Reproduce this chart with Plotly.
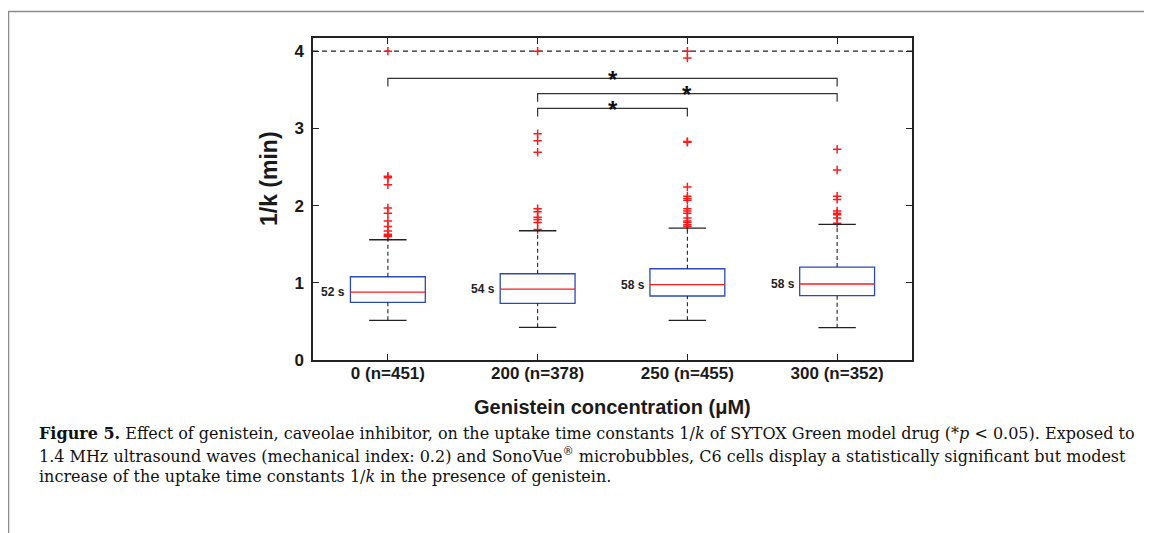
import plotly.graph_objects as go

# ---------------- data ----------------
categories = ["0 (n=451)", "200 (n=378)", "250 (n=455)", "300 (n=352)"]
positions = [1, 2, 3, 4]
q1 = [0.747, 0.734, 0.829, 0.833]
median = [0.880, 0.919, 0.975, 0.984]
q3 = [1.078, 1.117, 1.182, 1.204]
lower_whisker = [0.514, 0.423, 0.514, 0.419]
upper_whisker = [1.557, 1.674, 1.709, 1.756]
median_labels = ["52 s", "54 s", "58 s", "58 s"]
outliers = [
    [4.0, 2.38, 2.36, 2.27, 1.97, 1.90, 1.80, 1.73, 1.67, 1.63, 1.61, 1.60],
    [4.0, 2.93, 2.84, 2.69, 1.96, 1.92, 1.85, 1.82, 1.78, 1.69],
    [4.0, 3.91, 2.83, 2.82, 2.24, 2.12, 2.09, 2.07, 1.96, 1.93, 1.90, 1.84,
     1.80, 1.78, 1.75, 1.73],
    [2.73, 2.46, 2.12, 2.08, 1.93, 1.90, 1.88, 1.84, 1.77],
]
cap_value = 4.0
sig_pairs = [(1, 4), (2, 4), (2, 3)]
sig_heights = [3.646, 3.45, 3.258]
sig_labels = ["*", "*", "*"]
y_ticks = [0, 1, 2, 3, 4]
x_title = "Genistein concentration (μM)"
y_title = "1/k (min)"
caption_lines = [
    "<b>Figure 5.</b> Effect of genistein, caveolae inhibitor, on the uptake time constants 1/<i>k</i> of SYTOX Green model drug (*<i>p</i> &lt; 0.05). Exposed to",
    "1.4 MHz ultrasound waves (mechanical index: 0.2) and SonoVue<sup>®</sup> microbubbles, C6 cells display a statistically significant but modest",
    "increase of the uptake time constants 1/<i>k</i> in the presence of genistein.",
]

# ---------------- style ----------------
BOX_HALF = 0.25
CAP_HALF = 0.125
LEG_DROP = 0.105
BLUE = "#2a4bb5"
RED = "#ff1a1a"
SANS = "Liberation Sans, Arial, sans-serif"
SERIF = "DejaVu Serif, Liberation Serif, serif"

# the page body has an 8px margin: work in window pixels, convert to figure pixels
OFF = 8
W, H = 1152 - OFF, 533 - OFF
L, R, T, B = 313 - OFF, 912 - OFF, 38 - OFF, 360 - OFF


def px_to_paper_x(px):
    return (px - OFF - L) / (R - L)


def px_to_paper_y(py):
    return (B - (py - OFF)) / (B - T)


fig = go.Figure()
shapes = []

for i, x in enumerate(positions):
    shapes.append(dict(type="rect", xref="x", yref="y",
                       x0=x - BOX_HALF, x1=x + BOX_HALF, y0=q1[i], y1=q3[i],
                       line=dict(color=BLUE, width=1.3), layer="above"))
    shapes.append(dict(type="line", xref="x", yref="y",
                       x0=x - BOX_HALF, x1=x + BOX_HALF, y0=median[i], y1=median[i],
                       line=dict(color=RED, width=1.3), layer="above"))
    for a, b in [(q3[i], upper_whisker[i]), (lower_whisker[i], q1[i])]:
        shapes.append(dict(type="line", xref="x", yref="y",
                           x0=x, x1=x, y0=a, y1=b,
                           line=dict(color="#222222", width=1.1, dash="4px,3px"),
                           layer="above"))
    for v in [upper_whisker[i], lower_whisker[i]]:
        shapes.append(dict(type="line", xref="x", yref="y",
                           x0=x - CAP_HALF, x1=x + CAP_HALF, y0=v, y1=v,
                           line=dict(color="#222222", width=1.3), layer="above"))
    fig.add_trace(go.Scatter(
        x=[x] * len(outliers[i]), y=outliers[i], mode="markers",
        marker=dict(symbol="cross-thin", size=6, line=dict(color=RED, width=1.5)),
        showlegend=False, hoverinfo="y"))

shapes.append(dict(type="line", xref="x", yref="y", x0=0.5, x1=4.5,
                   y0=cap_value, y1=cap_value,
                   line=dict(color="#222222", width=1.1, dash="5px,4px"), layer="below"))

for (a, b), h in zip(sig_pairs, sig_heights):
    shapes.append(dict(type="path", xref="x", yref="y",
                       path=f"M {a} {h - LEG_DROP} L {a} {h} L {b} {h} L {b} {h - LEG_DROP}",
                       line=dict(color="#333333", width=1.2)))

# gray page border at top and left
shapes.append(dict(type="path", xref="paper", yref="paper",
                   path=(f"M {px_to_paper_x(8.5)} {px_to_paper_y(540)} "
                         f"L {px_to_paper_x(8.5)} {px_to_paper_y(11.5)} "
                         f"L {px_to_paper_x(1160)} {px_to_paper_y(11.5)}"),
                   line=dict(color="#8c8c8c", width=1.5)))

annotations = []
for i, x in enumerate(positions):
    annotations.append(dict(x=x - BOX_HALF, y=median[i], xref="x", yref="y",
                            text=median_labels[i], showarrow=False,
                            xanchor="right", yanchor="middle", xshift=-3,
                            font=dict(family=SANS, size=12, color="#222222", weight="bold")))
for (a, b), h, s in zip(sig_pairs, sig_heights, sig_labels):
    annotations.append(dict(x=(a + b) / 2, y=h, xref="x", yref="y", text=s,
                            showarrow=False, xanchor="center", yanchor="middle",
                            yshift=-1,
                            font=dict(family=SANS, size=24, color="#111111", weight="bold")))
annotations.append(dict(x=px_to_paper_x(269), y=px_to_paper_y(179), xref="paper", yref="paper",
                        text=y_title, showarrow=False, textangle=-90,
                        xanchor="center", yanchor="middle",
                        font=dict(family=SANS, size=23, color="#1a1a1a", weight="bold")))
annotations.append(dict(x=px_to_paper_x(612), y=px_to_paper_y(407), xref="paper", yref="paper",
                        text=x_title, showarrow=False,
                        xanchor="center", yanchor="middle",
                        font=dict(family=SANS, size=20, color="#1a1a1a", weight="bold")))
cap_y = [434, 455, 476]
for line, py in zip(caption_lines, cap_y):
    annotations.append(dict(x=px_to_paper_x(37), y=px_to_paper_y(py), xref="paper", yref="paper",
                            text=line, showarrow=False, xanchor="left", yanchor="middle",
                            font=dict(family=SERIF, size=16, color="#111111")))

axis_common = dict(showline=True, linecolor="#222222", linewidth=1.5, mirror="ticks",
                   ticks="inside", ticklen=6, tickwidth=1.2, tickcolor="#222222",
                   showgrid=False, zeroline=False)

fig.update_layout(
    width=W, height=H,
    margin=dict(l=L, r=W - R, t=T, b=H - B),
    paper_bgcolor="white", plot_bgcolor="white",
    xaxis=dict(range=[0.5, 4.5], tickmode="array", tickvals=positions, ticktext=categories,
               tickfont=dict(family=SANS, size=17, color="#1a1a1a", weight="bold"),
               ticklabelstandoff=-3, **axis_common),
    yaxis=dict(range=[0, 4.17], tickmode="array", tickvals=y_ticks,
               ticktext=[str(v) for v in y_ticks],
               tickfont=dict(family=SANS, size=17, color="#1a1a1a", weight="bold"),
               ticklabelstandoff=4, **axis_common),
    shapes=shapes, annotations=annotations,
)

fig.write_html("out.html")
